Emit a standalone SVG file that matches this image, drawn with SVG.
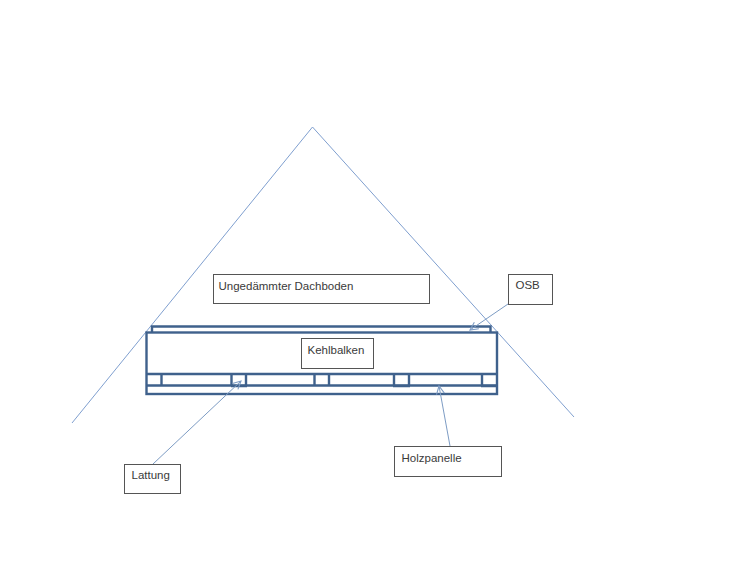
<svg xmlns="http://www.w3.org/2000/svg" width="750" height="563" viewBox="0 0 750 563">
<style>
text{font-family:"Liberation Sans",Arial,sans-serif;font-size:11.5px;fill:#3a3a3a}
.box{fill:#fff;stroke:#555;stroke-width:1}
.thin{fill:none;stroke:#7f9fcf;stroke-width:1}
.ptr{fill:none;stroke:#7d9cc4;stroke-width:1}
.st{fill:none;stroke:#3f618c;stroke-width:2.4}
</style>
<defs><marker id="arr" viewBox="0 0 10 10" refX="9" refY="5" markerWidth="10" markerHeight="10" orient="auto" markerUnits="userSpaceOnUse"><path d="M1 1L9 5L1 9" fill="none" stroke="#7d9cc4" stroke-width="1.1"/></marker></defs>
<rect width="750" height="563" fill="#fff"/>
<g id="roof"><path class="thin" d="M72 423L312.500 127L574 417"/></g>
<g id="structure">
<path class="st" d="M152 332V326.500H490.500V332"/>
<rect class="st" x="146.500" y="332.500" width="350.500" height="61.500"/>
<path class="st" d="M147 374H497M147 385.500H497"/>
<path class="st" d="M161.500 374V385.500M231.500 374V385.500M246 374V385.500M314.500 374V385.500M329 374V385.500M394 374V385.500M409 374V385.500M482 374V385.500"/>
<path class="st" d="M231 386H247M393 386H410M481 386H497"/>
</g>
<g id="connectors">
<path class="ptr" marker-end="url(#arr)" d="M508 304L470 330"/>
<path class="ptr" marker-end="url(#arr)" d="M153 464L241 381"/>
<path class="ptr" marker-end="url(#arr)" d="M450 446L439 386"/>
</g>
<g id="node-dachboden"><rect class="box" x="213.500" y="274.500" width="216" height="29"/><text x="218.500" y="290">Ungedämmter Dachboden</text></g>
<g id="node-osb"><rect class="box" x="508.500" y="274.500" width="44" height="30"/><text x="515.500" y="289">OSB</text></g>
<g id="node-kehlbalken"><rect class="box" x="301.500" y="338.500" width="72" height="30"/><text x="307.500" y="354">Kehlbalken</text></g>
<g id="node-lattung"><rect class="box" x="124.500" y="464.500" width="56" height="29"/><text x="131.500" y="479">Lattung</text></g>
<g id="node-holzpanelle"><rect class="box" x="394.500" y="446.500" width="107" height="30"/><text x="401.500" y="462">Holzpanelle</text></g>
</svg>
